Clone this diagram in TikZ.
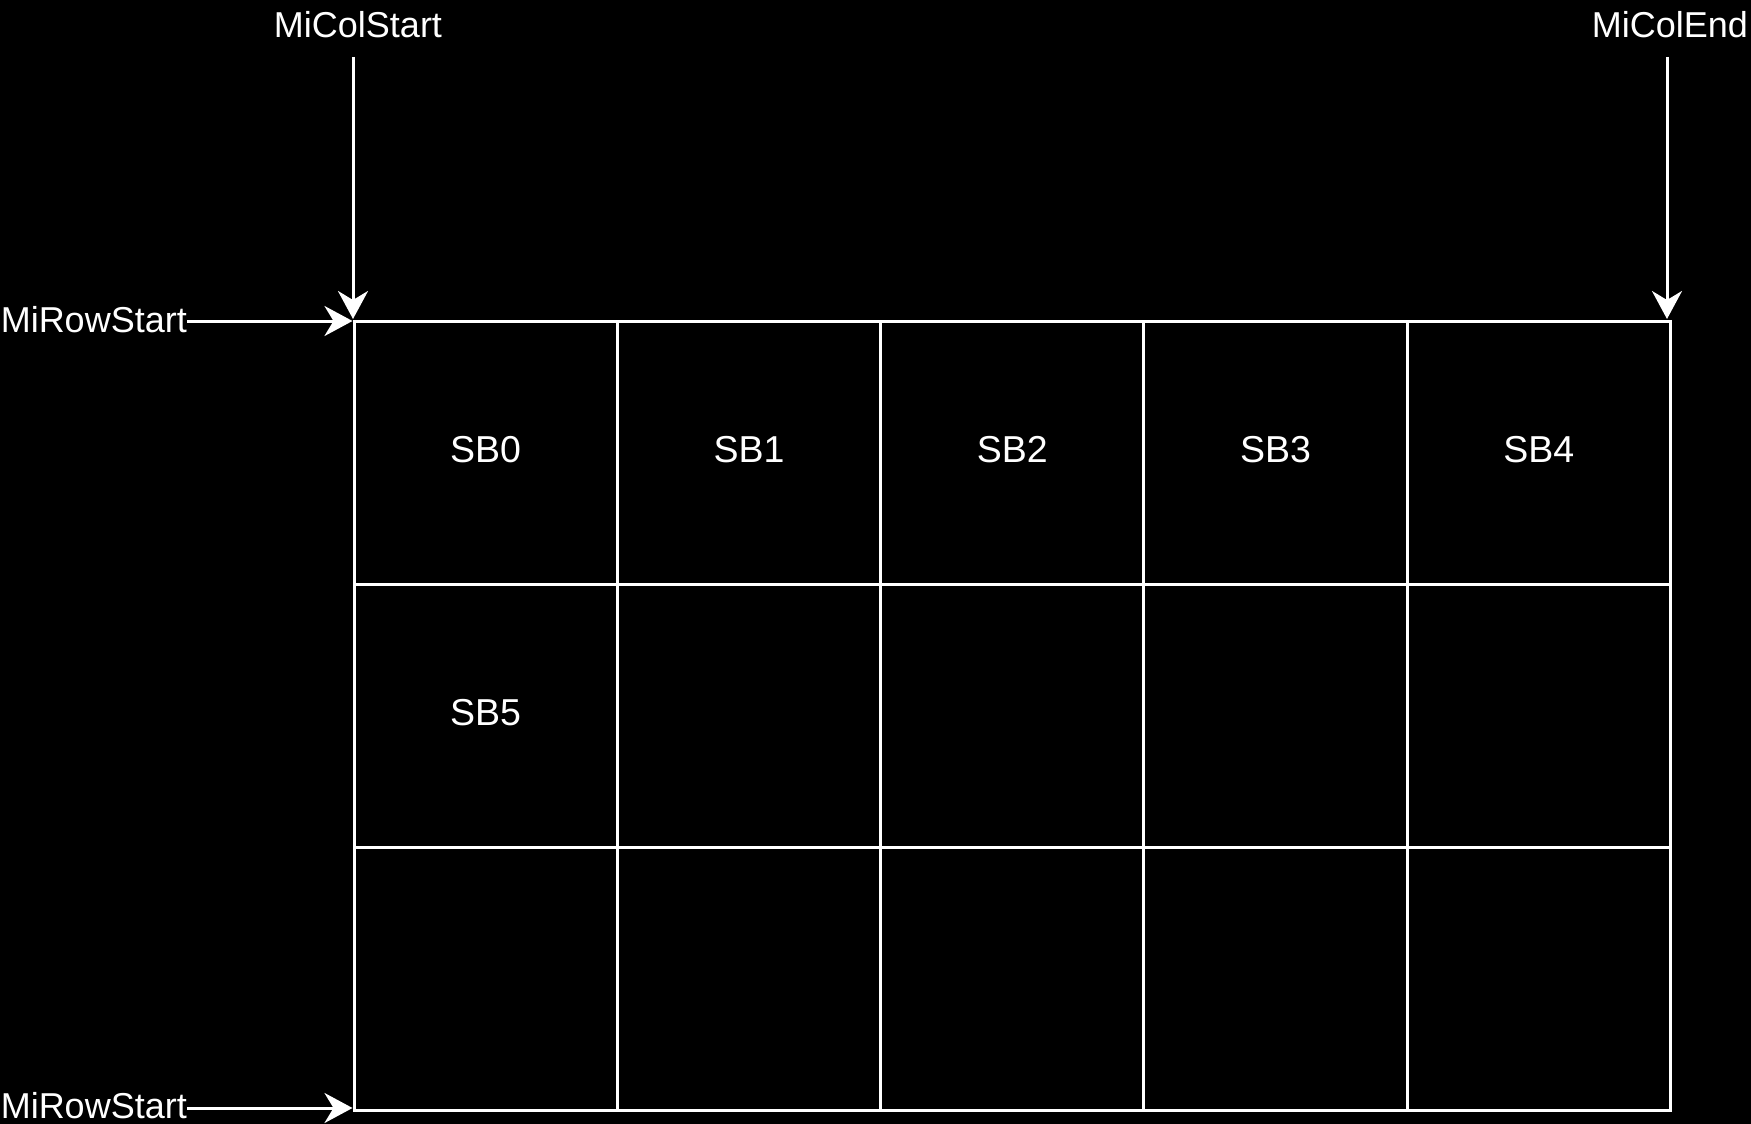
\documentclass[tikz,border=0pt]{standalone}
\usepackage{fontspec}
\setmainfont{Liberation Sans}
\usetikzlibrary{arrows.meta}
\begin{document}
\begin{tikzpicture}[x=1pt,y=-1pt,
  cell/.style={draw=white,line width=3pt,minimum width=263.3pt,minimum height=263.3pt,inner sep=0pt,outer sep=0pt,anchor=north west},
  sbtxt/.style={text=white,inner sep=0pt,font=\fontsize{37.5}{40}\selectfont},
  lbl/.style={text=white,inner sep=0pt,font=\fontsize{36}{40}\selectfont},
  arr/.style={draw=white,line width=3pt,-{Stealth[length=28pt,width=30pt,inset=9pt]}}]
\fill[black] (0,0) rectangle (1751,1124);
\useasboundingbox (0,0) rectangle (1751,1124);
% grid
\foreach \r in {0,1,2}{
  \foreach \c in {0,...,4}{
    \node[cell] (c\r\c) at ({354+263.3*\c},{321+263.3*\r}) {};
  }
}
\node[sbtxt] (sb0) at ([yshift=3pt]c00.center) {SB0};
\node[sbtxt] (sb1) at ([yshift=3pt]c01.center) {SB1};
\node[sbtxt] (sb2) at ([yshift=3pt]c02.center) {SB2};
\node[sbtxt] (sb3) at ([yshift=3pt]c03.center) {SB3};
\node[sbtxt] (sb4) at ([yshift=3pt]c04.center) {SB4};
\node[sbtxt] (sb5) at ([yshift=3pt]c10.center) {SB5};
% labels
\node[lbl,anchor=base] (colstart) at (358,37.3) {MiColStart};
\node[lbl,anchor=base] (colend) at (1670,37.3) {MiColEnd};
\node[lbl,anchor=base east] (rowstart) at (187,332) {MiRowStart};
\node[lbl,anchor=base east] (rowstartb) at (187,1118.5) {MiRowStart};
% arrow ends
\coordinate (cs0) at (353,57);
\coordinate (cs1) at (353,319);
\coordinate (ce0) at (1667,57);
\coordinate (ce1) at (1667,319);
\coordinate (rs1) at (352.5,321);
\coordinate (rb1) at (352.5,1108);
\draw[arr] (cs0) -- (cs1);
\draw[arr] (ce0) -- (ce1);
\draw[arr] (rowstart.east |- rs1) -- (rs1);
\draw[arr] (rowstartb.east |- rb1) -- (rb1);
\end{tikzpicture}
\end{document}
